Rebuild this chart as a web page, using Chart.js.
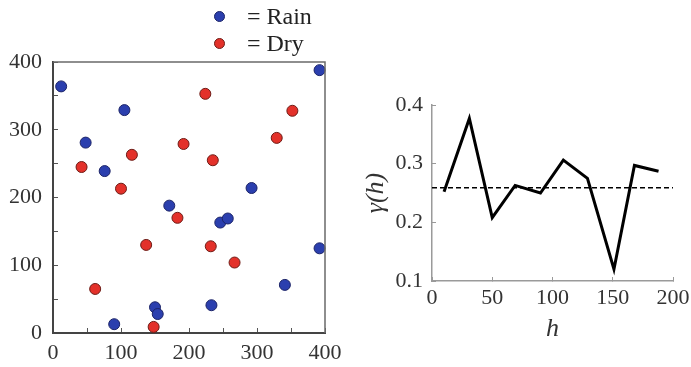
<!DOCTYPE html>
<html>
<head>
<meta charset="utf-8">
<script src="https://cdn.jsdelivr.net/npm/chart.js@4.4.1/dist/chart.umd.min.js"></script>
<style>
  html, body { margin: 0; padding: 0; background: #fff; }
  #wrap { position: relative; width: 691px; height: 367px; overflow: hidden; }
  #c1 { position: absolute; left: 0; top: 0; }
  #c2 { position: absolute; left: 345px; top: 0; }
  .dot { position: absolute; width: 11px; height: 11px; border-radius: 50%; box-sizing: border-box; border: 1px solid #333; }
  .lg { position: absolute; font-family: 'Liberation Serif', serif; font-size: 24px; line-height: 24px; color: #222; white-space: nowrap; }
</style>
</head>
<body>
<div id="wrap">
  <canvas id="c1" width="345" height="367"></canvas>
  <canvas id="c2" width="346" height="367"></canvas>
  <div class="dot" style="left:214px; top:11px; background:#2b3fae; border-color:#1c2468;"></div>
  <div class="lg" style="left:247px; top:4px;">= Rain</div>
  <div class="dot" style="left:214px; top:38px; background:#e3312a; border-color:#6e1c16;"></div>
  <div class="lg" style="left:247px; top:31px;">= Dry</div>
</div>
<script>
// ---- Data: left panel (site locations) ----
const rainX = [12, 105, 48, 76, 392, 292, 171, 246, 257, 392, 341, 150, 154, 233, 90];
const rainY = [364, 329, 281, 239, 388, 214, 188, 163, 169, 125, 71, 38, 28, 41, 13];
const dryX = [224, 352, 192, 329, 42, 116, 235, 100, 183, 137, 232, 267, 62, 148];
const dryY = [353, 328, 279, 288, 245, 263, 255, 213, 170, 130, 128, 104, 65, 9];
const rainLabel = '= Rain';
const dryLabel = '= Dry';

// ---- Data: right panel (variogram) ----
const lagH = [10, 31, 50, 69, 90, 109, 129, 151, 168, 188];
const gammaVals = [0.252, 0.377, 0.208, 0.263, 0.250, 0.306, 0.275, 0.120, 0.297, 0.287];
const sillH = [0, 200];
const sillVal = [0.259, 0.259];

// ---- Tick labels ----
const leftTicks = [0, 100, 200, 300, 400];
const rightXTicks = [0, 50, 100, 150, 200];
const rightYTicks = [0.1, 0.2, 0.3, 0.4];

const zip = (xs, ys) => xs.map((x, i) => ({ x: x, y: ys[i] }));
const serif = 'Liberation Serif';

function fixSize(prop, val) {
  return s => {
    s[prop] = val;
    s.paddingLeft = 0; s.paddingRight = 0; s.paddingTop = 0; s.paddingBottom = 0;
  };
}

const boxPlugin = {
  id: 'boxPlugin',
  afterDatasetsDraw(chart) {
    const { ctx, chartArea: a } = chart;
    ctx.save();
    ctx.strokeStyle = '#6a6a6a';
    ctx.lineWidth = 1.5;
    ctx.beginPath();
    ctx.moveTo(a.left, a.top);
    ctx.lineTo(a.right, a.top);
    ctx.lineTo(a.right, a.bottom);
    ctx.stroke();
    ctx.restore();
  }
};

new Chart(document.getElementById('c1'), {
  type: 'scatter',
  data: {
    datasets: [
      { label: rainLabel, data: zip(rainX, rainY), backgroundColor: '#2b3fae', borderColor: '#1c2468', borderWidth: 1, pointRadius: 5.5, clip: false },
      { label: dryLabel, data: zip(dryX, dryY), backgroundColor: '#e3312a', borderColor: '#6e1c16', borderWidth: 1, pointRadius: 5.5, clip: false }
    ]
  },
  options: {
    responsive: false,
    animation: false,
    layout: { padding: { top: 62, right: 20, left: 0, bottom: 0 } },
    plugins: { legend: { display: false }, tooltip: { enabled: false } },
    scales: {
      x: {
        type: 'linear', min: 0, max: 400,
        afterFit: fixSize('height', 34),
        ticks: { stepSize: 50, autoSkip: false, maxRotation: 0, color: '#333', padding: 12,
          font: { family: serif, size: 22 },
          callback: v => leftTicks.includes(v) ? String(v) : '' },
        grid: { drawOnChartArea: false, drawTicks: true, tickLength: -5, color: '#555', lineWidth: 1 },
        border: { display: true, color: '#444', width: 2 }
      },
      y: {
        type: 'linear', min: 0, max: 400,
        afterFit: fixSize('width', 53),
        ticks: { stepSize: 50, autoSkip: false, color: '#333', padding: 16,
          font: { family: serif, size: 22 },
          callback: v => leftTicks.includes(v) ? String(v) : '' },
        grid: { drawOnChartArea: false, drawTicks: true, tickLength: -5, color: '#555', lineWidth: 1 },
        border: { display: true, color: '#444', width: 2 }
      }
    }
  },
  plugins: [boxPlugin]
});

new Chart(document.getElementById('c2'), {
  type: 'line',
  data: {
    datasets: [
      { data: zip(lagH, gammaVals), borderColor: '#000', borderWidth: 3, pointRadius: 0, tension: 0, fill: false, clip: false },
      { data: zip(sillH, sillVal), borderColor: '#000', borderWidth: 1.5, borderDash: [5, 3], pointRadius: 0, tension: 0, fill: false, clip: false }
    ]
  },
  options: {
    responsive: false,
    animation: false,
    layout: { padding: { top: 105, right: 18, left: 0, bottom: 0 } },
    plugins: { legend: { display: false }, tooltip: { enabled: false } },
    scales: {
      x: {
        type: 'linear', min: 0, max: 200,
        afterFit: fixSize('height', 86),
        ticks: { stepSize: 50, autoSkip: false, maxRotation: 0, color: '#333', padding: 8,
          font: { family: serif, size: 22 },
          callback: v => rightXTicks.includes(v) ? String(v) : '' },
        grid: { drawOnChartArea: false, drawTicks: true, tickLength: -4, color: '#999', lineWidth: 1 },
        border: { display: true, color: '#9a9a9a', width: 1.5 },
        title: { display: true, text: 'h', color: '#333', padding: { top: 0, bottom: 22 },
          font: { family: serif, size: 26, style: 'italic' } }
      },
      y: {
        type: 'linear', min: 0.1, max: 0.4,
        afterFit: fixSize('width', 87),
        ticks: { stepSize: 0.1, autoSkip: false, color: '#333', padding: 13,
          font: { family: serif, size: 22 },
          callback: v => { const r = Math.round(v * 10) / 10; return rightYTicks.includes(r) ? r.toFixed(1) : ''; } },
        grid: { drawOnChartArea: false, drawTicks: true, tickLength: -4, color: '#999', lineWidth: 1 },
        border: { display: true, color: '#9a9a9a', width: 1.5 },
        title: { display: true, text: 'γ(h)', color: '#333', padding: { top: 16, bottom: 0 },
          font: { family: serif, size: 26, style: 'italic' } }
      }
    }
  }
});
</script>
</body>
</html>
